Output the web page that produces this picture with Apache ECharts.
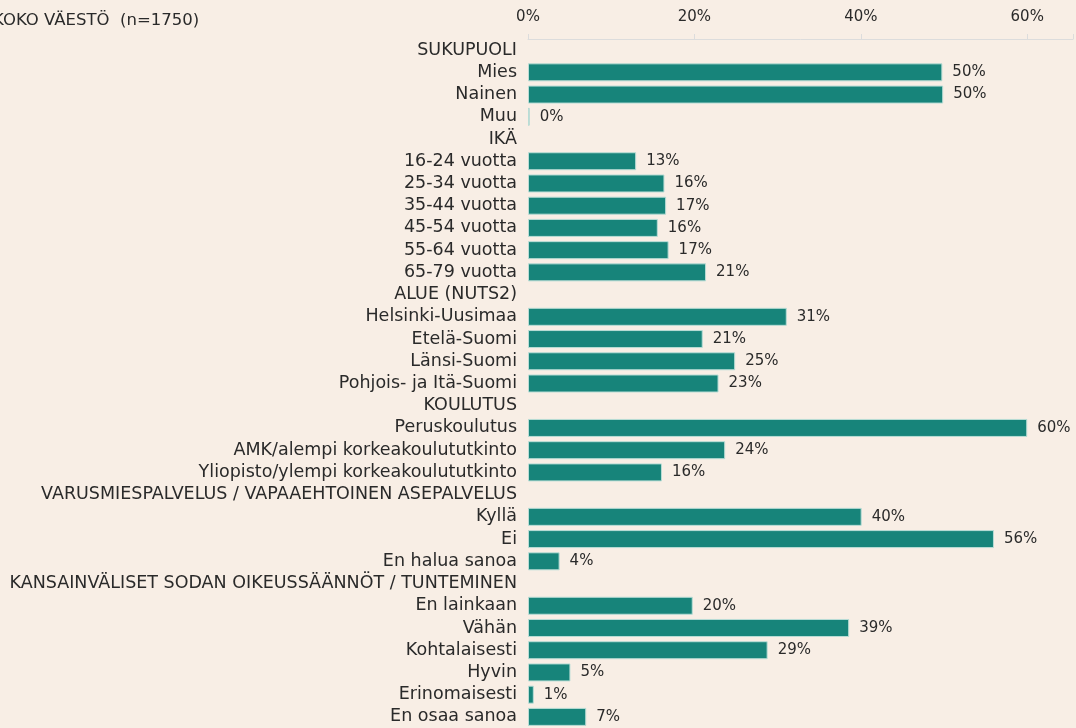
<!DOCTYPE html>
<html>
<head>
<meta charset="utf-8">
<script src="https://cdn.jsdelivr.net/npm/echarts@6/dist/echarts.min.js"></script>
<style>
  html, body { margin: 0; padding: 0; background: #f8eee5; }
  #chart { width: 1076px; height: 728px; }
</style>
</head>
<body>
<div id="chart"></div>
<script>
// rivit ylhäältä alas, otsikkoriveillä ei palkkia (null)
const categories = [
  'SUKUPUOLI', 'Mies', 'Nainen', 'Muu',
  'IKÄ', '16-24 vuotta', '25-34 vuotta', '35-44 vuotta', '45-54 vuotta', '55-64 vuotta', '65-79 vuotta',
  'ALUE (NUTS2)', 'Helsinki-Uusimaa', 'Etelä-Suomi', 'Länsi-Suomi', 'Pohjois- ja Itä-Suomi',
  'KOULUTUS', 'Peruskoulutus', 'AMK/alempi korkeakoulututkinto', 'Yliopisto/ylempi korkeakoulututkinto',
  'VARUSMIESPALVELUS / VAPAAEHTOINEN ASEPALVELUS', 'Kyllä', 'Ei', 'En halua sanoa',
  'KANSAINVÄLISET SODAN OIKEUSSÄÄNNÖT / TUNTEMINEN', 'En lainkaan', 'Vähän', 'Kohtalaisesti', 'Hyvin', 'Erinomaisesti', 'En osaa sanoa'
]
const values = [
  null, 49.8, 49.9, 0.2,
  null, 13.0, 16.4, 16.6, 15.6, 16.9, 21.4,
  null, 31.1, 21.0, 24.9, 22.9,
  null, 60.0, 23.7, 16.1,
  null, 40.1, 56.0, 3.8,
  null, 19.8, 38.6, 28.8, 5.1, 0.7, 7.0
]
const xTicks = [0, 20, 40, 60]

const fontFamily = '"DejaVu Sans", sans-serif'
const textColor = '#2a2a2a'

let chart = echarts.init(document.getElementById('chart'))
chart.setOption({
  backgroundColor: '#f8eee5',
  animation: false,
  title: {
    text: 'KOKO VÄESTÖ  (n=1750)',
    left: -12,
    top: 7,
    textStyle: { fontFamily: fontFamily, fontSize: 16.5, fontWeight: 'normal', color: textColor }
  },
  grid: { left: 528, right: 0, top: 39, bottom: 0 },
  xAxis: {
    type: 'value',
    position: 'top',
    min: 0,
    max: 65.5,
    interval: 20,
    splitLine: { show: false },
    axisLine: { show: true, lineStyle: { color: '#dcdcdc' } },
    axisTick: { show: true, length: 5, lineStyle: { color: '#dcdcdc' } },
    axisLabel: {
      fontFamily: fontFamily, fontSize: 15, color: textColor, margin: 14,
      formatter: v => xTicks.includes(v) ? v + '%' : ''
    }
  },
  yAxis: {
    type: 'category',
    inverse: true,
    data: categories,
    axisLine: { show: false },
    axisTick: { show: false },
    axisLabel: { fontFamily: fontFamily, fontSize: 17.5, color: textColor, margin: 11, interval: 0 }
  },
  series: [
    {
      type: 'bar',
      data: values,
      barCategoryGap: '19%',
      itemStyle: { color: '#17847a', borderColor: '#b9ddd6', borderWidth: 1 },
      label: {
        show: true,
        position: 'right',
        distance: 10,
        fontFamily: fontFamily,
        fontSize: 15,
        color: textColor,
        formatter: p => p.value == null ? '' : Math.round(p.value) + '%'
      }
    }
  ]
})
</script>
</body>
</html>
